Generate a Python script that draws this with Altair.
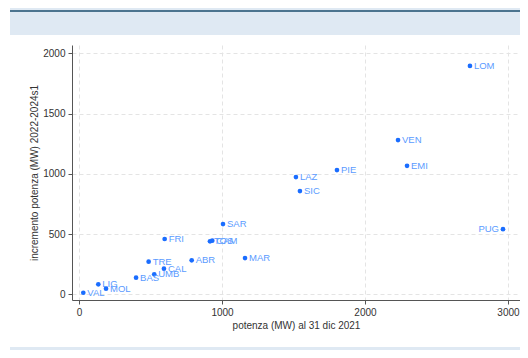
import altair as alt
import pandas as pd

regions = ["LOM", "VEN", "EMI", "PUG", "PIE", "LAZ", "SIC", "SAR", "FRI", "TOS", "CAM",
           "ABR", "MAR", "TRE", "CAL", "UMB", "BAS", "LIG", "MOL", "VAL"]
potenza = [2734, 2231, 2294, 2965, 1804, 1517, 1545, 1007, 599, 916, 932,
           788, 1161, 487, 594, 526, 399, 135, 189, 30]
incremento = [1895, 1280, 1066, 541, 1031, 973, 857, 583, 459, 440, 445,
              282, 301, 271, 213, 166, 138, 83, 47, 13]
# labels drawn left of their marker (too close to the right edge otherwise)
left_labels = ["PUG"]

df = pd.DataFrame({"reg": regions, "x": potenza, "y": incremento})
df_right = df[~df["reg"].isin(left_labels)]
df_left = df[df["reg"].isin(left_labels)]

W, H = 448, 255
band_color = "#dfe9f3"

xscale = alt.Scale(domain=[-49, 3084], nice=False, zero=False)
yscale = alt.Scale(domain=[-47, 2069], nice=False, zero=False)

axis_common = dict(grid=True, gridDash=[4, 3], gridColor="#e4e4e4", domainColor="#555",
                   tickColor="#555", tickSize=4, labelFontSize=10, labelColor="#333",
                   titleFontSize=10, titleFontWeight="normal", titleColor="#333",
                   labelFont="Liberation Sans", titleFont="Liberation Sans",
                   labelPadding=3, format="d")

points = alt.Chart(df).mark_circle(size=22, color="#1a6dff", opacity=1).encode(
    x=alt.X("x:Q", scale=xscale, title="potenza (MW) al 31 dic 2021",
            axis=alt.Axis(values=[0, 1000, 2000, 3000], titlePadding=3, **axis_common)),
    y=alt.Y("y:Q", scale=yscale, title="incremento potenza (MW) 2022-2024s1",
            axis=alt.Axis(values=[0, 500, 1000, 1500, 2000], titlePadding=3, **axis_common)),
)

text_style = dict(baseline="middle", fontSize=9.5, color="#5a9bff", font="Liberation Sans")

labels_r = alt.Chart(df_right).mark_text(align="left", dx=4, **text_style).encode(
    x=alt.X("x:Q", scale=xscale), y=alt.Y("y:Q", scale=yscale), text="reg:N")
labels_l = alt.Chart(df_left).mark_text(align="right", dx=-4, **text_style).encode(
    x=alt.X("x:Q", scale=xscale), y=alt.Y("y:Q", scale=yscale), text="reg:N")

top_band = alt.Chart().mark_rect(color=band_color).encode(
    x=alt.value(-62), x2=alt.value(456), y=alt.value(-37), y2=alt.value(-10))
top_line = alt.Chart().mark_rule(color="#1b4d6e", strokeWidth=1.5).encode(
    x=alt.value(-62), x2=alt.value(456), y=alt.value(-34))
bottom_band = alt.Chart().mark_rect(color=band_color).encode(
    x=alt.value(-62), x2=alt.value(456), y=alt.value(302), y2=alt.value(313))

chart = alt.layer(top_band, top_line, bottom_band, points, labels_r, labels_l).properties(
    width=W, height=H,
    autosize=alt.AutoSizeParams(type="none"),
    padding={"left": 64, "top": 37, "right": 0, "bottom": 50},
).configure_view(stroke=None)

chart.save("out.html", embed_options={"renderer": "svg", "actions": False})
